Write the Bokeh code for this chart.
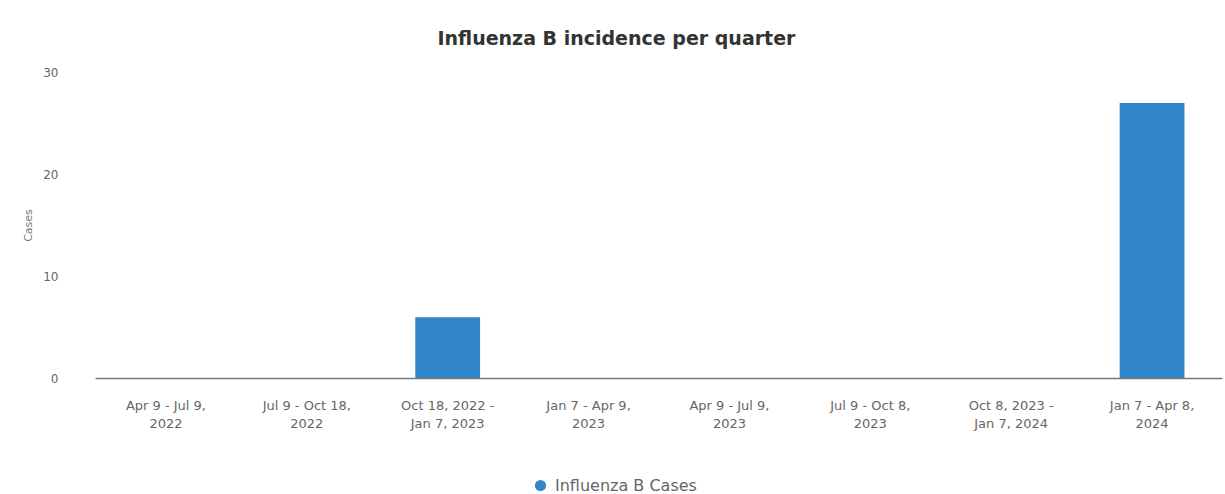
from bokeh.plotting import figure
from bokeh.layouts import column
from bokeh.models import ColumnDataSource, Legend, LegendItem, Range1d, FixedTicker
from bokeh.embed import file_html
from bokeh.resources import INLINE

categories = [
    "Apr 9 - Jul 9,\n2022",
    "Jul 9 - Oct 18,\n2022",
    "Oct 18, 2022 -\nJan 7, 2023",
    "Jan 7 - Apr 9,\n2023",
    "Apr 9 - Jul 9,\n2023",
    "Jul 9 - Oct 8,\n2023",
    "Oct 8, 2023 -\nJan 7, 2024",
    "Jan 7 - Apr 8,\n2024",
]
cases = [0, 0, 6, 0, 0, 0, 0, 27]
y_ticks = [0, 10, 20, 30]
series_name = "Influenza B Cases"
title_text = "Influenza B incidence per quarter"

BAR = "#3086c9"
FONT = "DejaVu Sans"

src = ColumnDataSource(dict(cat=categories, val=cases))

p = figure(
    x_range=categories,
    y_range=Range1d(0, 30),
    width=1225,
    height=440,
    output_backend="svg",
    toolbar_location=None,
    min_border_left=95,
    min_border_right=3,
    min_border_top=72,
    min_border_bottom=62,
)
p.outline_line_color = None
p.background_fill_color = "white"
p.border_fill_color = "white"

p.title.text = title_text
p.title.align = "left"
p.title.offset = 342
p.title.text_font = FONT
p.title.text_font_size = "19px"
p.title.text_font_style = "bold"
p.title.text_color = "#333333"
p.title.standoff = 47

p.vbar(x="cat", top="val", width=0.46, source=src, fill_color=BAR, line_color=None)

p.xgrid.grid_line_color = None
p.ygrid.grid_line_color = None

p.yaxis.ticker = FixedTicker(ticks=y_ticks)
p.yaxis.axis_line_color = None
p.yaxis.major_tick_line_color = None
p.yaxis.minor_tick_line_color = None
p.yaxis.major_label_text_font = FONT
p.yaxis.major_label_text_font_size = "12px"
p.yaxis.major_label_text_color = "#666666"
p.yaxis.major_label_standoff = 31
p.yaxis.axis_label = "Cases"
p.yaxis.axis_label_text_font = FONT
p.yaxis.axis_label_text_font_size = "11px"
p.yaxis.axis_label_text_font_style = "normal"
p.yaxis.axis_label_text_color = "#777777"
p.yaxis.axis_label_standoff = 5

p.xaxis.axis_line_color = "#7a7a7a"
p.xaxis.axis_line_width = 1.6
p.xaxis.major_tick_line_color = None
p.xaxis.minor_tick_line_color = None
p.xaxis.major_label_text_font = FONT
p.xaxis.major_label_text_font_size = "13px"
p.xaxis.major_label_text_color = "#666666"
p.xaxis.major_label_standoff = 13
p.x_range.range_padding = 0.0

# Legend strip below the chart
lf = figure(
    x_range=p.x_range,
    y_range=Range1d(100, 200),
    width=1225,
    height=54,
    output_backend="svg",
    toolbar_location=None,
    x_axis_location=None,
    y_axis_location=None,
    min_border_left=0,
    min_border_right=0,
    min_border_top=0,
    min_border_bottom=0,
)
lf.outline_line_color = None
lf.xgrid.grid_line_color = None
lf.ygrid.grid_line_color = None
leg_r = lf.scatter(x="cat", y="val", source=src, marker="circle", size=0,
                   fill_color=BAR, line_color=None)

legend = Legend(
    items=[LegendItem(label=series_name, renderers=[leg_r])],
    orientation="horizontal",
    location=(431, -5),
    label_text_font=FONT,
    label_text_font_size="16px",
    label_text_color="#666666",
    label_standoff=1,
    border_line_color=None,
    background_fill_alpha=0,
    glyph_width=28,
    glyph_height=28,
    label_height=28,
    margin=0,
    padding=0,
)
lf.add_layout(legend, "center")

open("out.html", "w").write(file_html(column(p, lf, spacing=0), INLINE))
